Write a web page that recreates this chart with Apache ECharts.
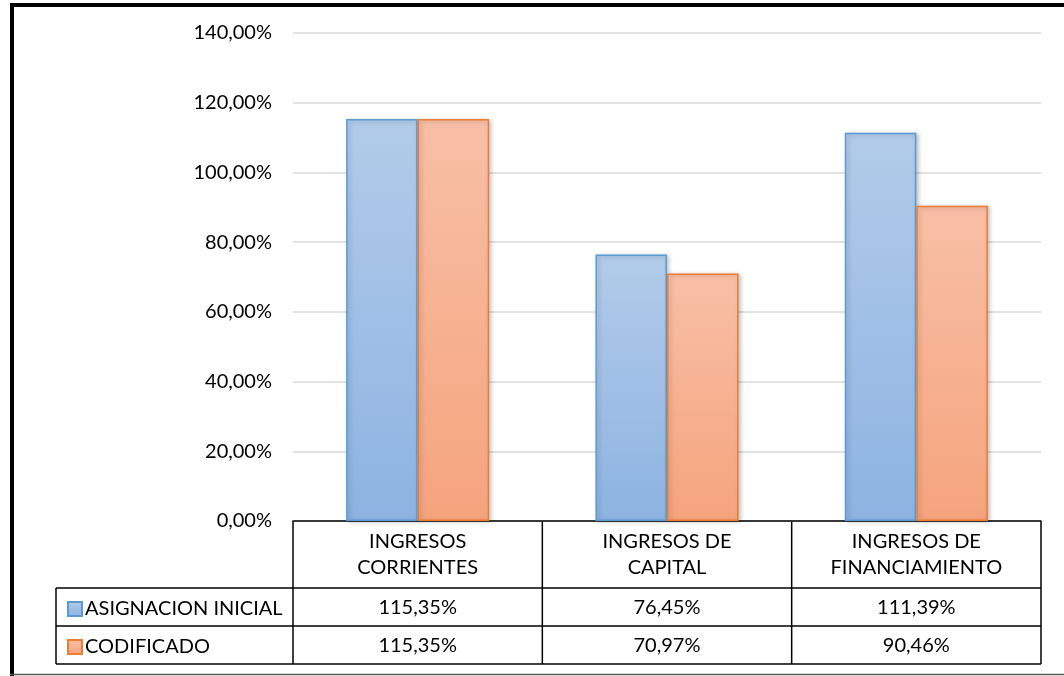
<!DOCTYPE html>
<html>
<head>
<meta charset="utf-8">
<script src="https://cdn.jsdelivr.net/npm/echarts@6/dist/echarts.min.js"></script>
<style>
  html, body { margin: 0; padding: 0; background: #fff; }
  #chart { width: 1064px; height: 676px; }
</style>
</head>
<body>
<div id="chart"></div>
<script>
// Ejecución de ingresos por grupo (% respecto a la asignación y al codificado)
const categories = ['INGRESOS\nCORRIENTES', 'INGRESOS DE\nCAPITAL', 'INGRESOS DE\nFINANCIAMIENTO'];
const seriesNames = ['ASIGNACION INICIAL', 'CODIFICADO'];
const asignacionInicial = [115.35, 76.45, 111.39];
const codificado = [115.35, 70.97, 90.46];
const yTicks = { min: 0, max: 140, interval: 20 };

const FONT = 'Lato, "Open Sans", sans-serif';
const FS = 20;
const fmt = v => v.toFixed(2).replace('.', ',') + '%';

// plot / table geometry
const G = { left: 293, right: 23, top: 33, bottom: 155 };
const W = 1064, H = 676;
const gridRight = W - G.right;
const axisY = H - G.bottom;          // 521
const rowY = [axisY, 588, 626, 664]; // header row, two value rows
const legendLeft = 56;

const chart = echarts.init(document.getElementById('chart'));

function grad(top, bottom) {
  return new echarts.graphic.LinearGradient(0, 0, 0, 1, [
    { offset: 0, color: top }, { offset: 1, color: bottom }
  ]);
}

const valueAxis = (values, offset) => ({
  type: 'category',
  gridIndex: 0,
  position: 'bottom',
  offset: offset,
  data: values.map(fmt),
  axisLine: { show: false },
  axisTick: { show: false },
  axisLabel: { color: '#000', fontFamily: FONT, fontSize: FS, margin: 0, verticalAlign: 'middle' }
});

const legendRow = (name, top) => ({
  orient: 'vertical',
  left: 62,
  top: top,
  itemWidth: 14,
  itemHeight: 14,
  icon: 'rect',
  textStyle: { color: '#000', fontSize: FS, lineHeight: 20, fontFamily: FONT, padding: [0, 0, 0, -2] },
  data: [name]
});

const lines = [];
// horizontal table rules
[rowY[1], rowY[2], rowY[3]].forEach(y => {
  lines.push({ type: 'line', shape: { x1: legendLeft, y1: y, x2: gridRight, y2: y },
    style: { stroke: '#000', lineWidth: 1.5 } });
});
// vertical rules: legend column edge and band boundaries
lines.push({ type: 'line', shape: { x1: legendLeft, y1: rowY[1], x2: legendLeft, y2: rowY[3] },
  style: { stroke: '#000', lineWidth: 1.5 } });
const bandW = (gridRight - G.left) / categories.length;
for (let i = 0; i <= categories.length; i++) {
  const x = G.left + i * bandW;
  lines.push({ type: 'line', shape: { x1: x, y1: rowY[0], x2: x, y2: rowY[3] },
    style: { stroke: '#000', lineWidth: 1.5 } });
}
// frame
lines.push({ type: 'line', shape: { x1: 10, y1: 5, x2: W, y2: 5 }, style: { stroke: '#000', lineWidth: 4 } });
lines.push({ type: 'line', shape: { x1: 12, y1: 3, x2: 12, y2: H }, style: { stroke: '#000', lineWidth: 4 } });
lines.push({ type: 'line', shape: { x1: 10, y1: 674.5, x2: W, y2: 674.5 }, style: { stroke: '#595959', lineWidth: 1.5 } });

const barShadow = { shadowBlur: 4, shadowColor: 'rgba(0,0,0,0.22)', shadowOffsetX: 2, shadowOffsetY: 1 };

chart.setOption({
  animation: false,
  backgroundColor: '#fff',
  textStyle: { fontFamily: FONT },
  grid: { left: G.left, right: G.right, top: G.top, bottom: G.bottom, containLabel: false },
  legend: [legendRow(seriesNames[0], 594), legendRow(seriesNames[1], 632)],
  xAxis: [
    {
      type: 'category',
      data: categories,
      axisLine: { show: true, lineStyle: { color: '#000', width: 1.5 } },
      axisTick: { show: false },
      axisLabel: { color: '#000', fontFamily: FONT, fontSize: FS, lineHeight: 26, margin: 34, verticalAlign: 'middle', interval: 0 }
    },
    valueAxis(asignacionInicial, 87),
    valueAxis(codificado, 125)
  ],
  yAxis: {
    type: 'value',
    min: yTicks.min, max: yTicks.max, interval: yTicks.interval,
    axisLine: { show: false },
    axisTick: { show: false },
    splitLine: { lineStyle: { color: '#d9d9d9', width: 1.5 } },
    axisLabel: { color: '#000', fontFamily: FONT, fontSize: FS, margin: 21, formatter: v => fmt(v) }
  },
  series: [
    {
      name: seriesNames[0],
      type: 'bar',
      xAxisIndex: 0,
      data: asignacionInicial,
      barWidth: '28.7%',
      barGap: '0%',
      itemStyle: Object.assign({ color: grad('#b2cbe9', '#8db3e2'), borderColor: '#5b9bd5', borderWidth: 1.5 }, barShadow)
    },
    {
      name: seriesNames[1],
      type: 'bar',
      xAxisIndex: 0,
      data: codificado,
      barWidth: '28.7%',
      barGap: '0%',
      itemStyle: Object.assign({ color: grad('#f8bfa6', '#f5a47d'), borderColor: '#ed7d31', borderWidth: 1.5 }, barShadow)
    }
  ],
  graphic: lines
});
</script>
</body>
</html>
